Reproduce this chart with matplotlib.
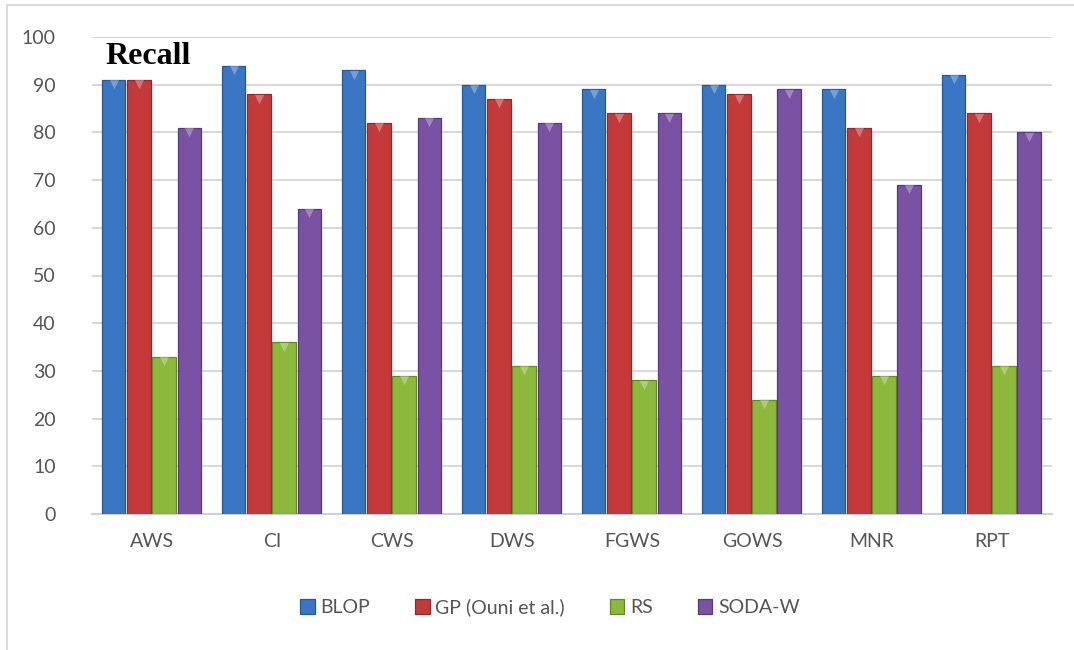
import matplotlib.pyplot as plt
import numpy as np
from matplotlib.patches import Rectangle

# recall per web-service dataset
categories = ['AWS', 'CI', 'CWS', 'DWS', 'FGWS', 'GOWS', 'MNR', 'RPT']
blop = [91, 94, 93, 90, 89, 90, 89, 92]
gp = [91, 88, 82, 87, 84, 88, 81, 84]
rs = [33, 36, 29, 31, 28, 24, 29, 31]
soda = [81, 64, 83, 82, 84, 89, 69, 80]
series_names = ['BLOP', 'GP (Ouni et al.)', 'RS', 'SODA-W']

colors = ['#3a76c4', '#c4393a', '#8cb83c', '#7a52a4']
edges = ['#2a5790', '#8e2a2b', '#66882a', '#573a78']

plt.rcParams['font.family'] = ['Lato', 'DejaVu Sans']

fig = plt.figure(figsize=(10.74, 6.5), dpi=100)
ax = fig.add_axes([92 / 1074, 1 - 514 / 650, 960 / 1074, 477 / 650])

x = np.arange(len(categories))
w = 0.195
offsets = [-0.32, -0.11, 0.1, 0.31]
for vals, off, c, e, name in zip([blop, gp, rs, soda], offsets, colors, edges, series_names):
    ax.bar(x + off, vals, w, color=c, edgecolor=e, linewidth=0.9, label=name, zorder=3)
    # little highlight wedge on top of each bar
    ax.scatter(x + off, np.array(vals) - 0.9, marker='v', s=45, color='white', alpha=0.3,
               linewidths=0, zorder=4)

ax.set_xlim(-0.5, len(categories) - 0.5)
ax.set_ylim(0, 100)
ax.set_yticks(range(0, 101, 10))
ax.yaxis.grid(True, color='#d9d9d9', linewidth=1.5, zorder=0)
ax.set_axisbelow(True)
for s in ['top', 'right', 'left']:
    ax.spines[s].set_visible(False)
ax.spines['bottom'].set_color('#d0d0d0')
ax.spines['bottom'].set_linewidth(1.5)
ax.tick_params(axis='both', length=0, labelsize=14, labelcolor='#555555')
ax.tick_params(axis='y', pad=26)
ax.tick_params(axis='x', pad=14)
ax.set_xticks(x)
ax.set_xticklabels(categories)

fig.text(105 / 1074, 1 - 57 / 650, 'Recall', family='Liberation Serif', fontweight='bold',
         fontsize=23, va='center', ha='left', color='black')

ax.legend(loc='upper center', bbox_to_anchor=(0.477, -0.14), ncol=4, frameon=False,
          fontsize=14, labelcolor='#555555', handlelength=0.75, handleheight=0.75,
          handletextpad=0.3, columnspacing=2.3)

# outer chart frame
fig.patches.append(Rectangle((7 / 1074, -0.1), 1.2, 1 - 5 / 650 + 0.1, transform=fig.transFigure,
                             fill=False, edgecolor='#d4d4d4', linewidth=1.2))

fig.savefig('out.png', dpi=100)
